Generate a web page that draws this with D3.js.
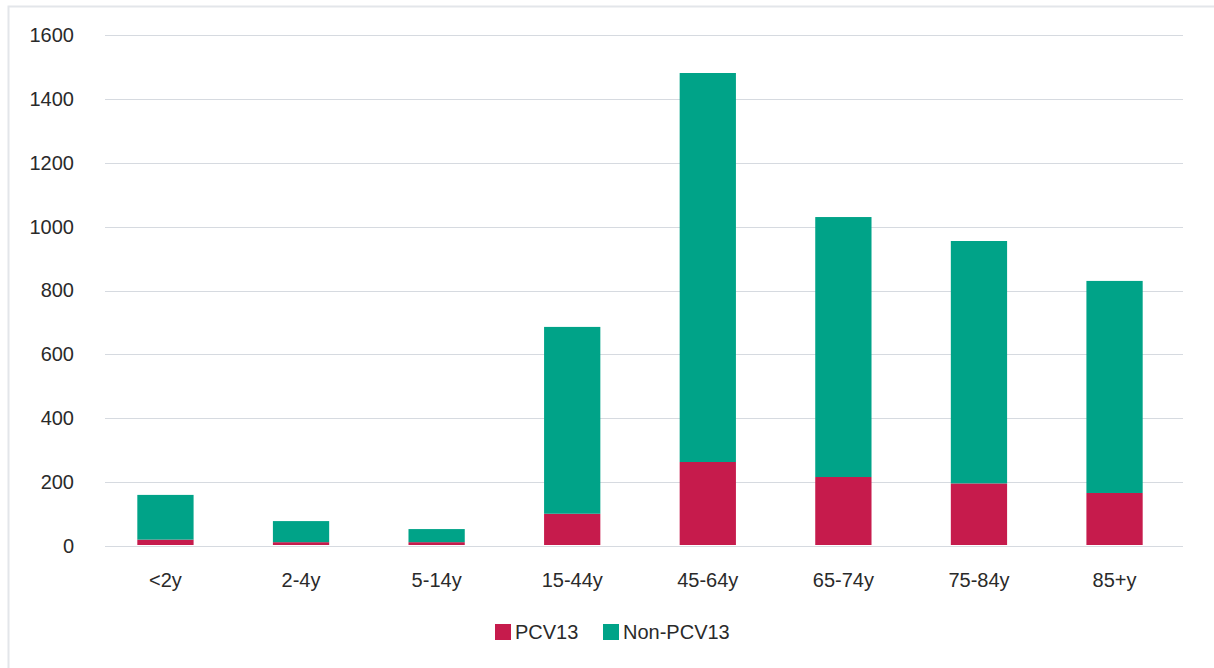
<!DOCTYPE html>
<html>
<head>
<meta charset="utf-8">
<script src="https://cdn.jsdelivr.net/npm/d3@7"></script>
<style>
  html, body { margin: 0; padding: 0; background: #fff; }
  svg { display: block; font-family: "Liberation Sans", Arial, sans-serif; }
</style>
</head>
<body>
<svg id="chart"></svg>
<script>
const categories = ["<2y", "2-4y", "5-14y", "15-44y", "45-64y", "65-74y", "75-84y", "85+y"]
const pcv13 = [20, 12, 12, 101, 263, 216, 196, 166]
const nonPcv13 = [140, 66, 41, 585, 1218, 814, 759, 664]
const seriesNames = ["PCV13", "Non-PCV13"]
const yTicks = [0, 200, 400, 600, 800, 1000, 1200, 1400, 1600]

const colors = { "PCV13": "#C61B4C", "Non-PCV13": "#00A388" }
const textColor = "#2a2a2a"

const width = 1214
const height = 668

const svg = d3.select("#chart")
    .attr("width", width)
    .attr("height", height)

// outer frame
svg.append("rect")
    .attr("x", 8.5)
    .attr("y", 6.5)
    .attr("width", width)
    .attr("height", height)
    .attr("fill", "none")
    .attr("stroke", "#E3E6EA")
    .attr("stroke-width", 2)

const table = categories.map((c, i) => ({ cat: c, "PCV13": pcv13[i], "Non-PCV13": nonPcv13[i] }))
const stacked = d3.stack().keys(seriesNames)(table)

const x = d3.scaleBand()
    .domain(categories)
    .range([98, 1182])
    .paddingInner(0.585)
    .paddingOuter(0.29)

const y = d3.scaleLinear()
    .domain([0, 1600])
    .range([546, 35])

// gridlines
svg.append("g")
    .selectAll("line")
    .data(yTicks)
    .join("line")
    .attr("x1", 105)
    .attr("x2", 1183)
    .attr("y1", d => Math.round(y(d)) + 0.5)
    .attr("y2", d => Math.round(y(d)) + 0.5)
    .attr("stroke", "#D6DAE0")
    .attr("stroke-width", 1.2)

// y labels
const yAxis = d3.axisLeft(y).tickValues(yTicks).tickFormat(d3.format("d")).tickSize(0).tickPadding(0)
const gy = svg.append("g")
    .attr("transform", "translate(74,0)")
    .call(yAxis)
gy.select(".domain").remove()
gy.selectAll("text")
    .attr("font-size", 20)
    .attr("font-family", "Liberation Sans, Arial, sans-serif")
    .attr("fill", textColor)

// bars
svg.append("g")
    .selectAll("g")
    .data(stacked)
    .join("g")
    .attr("fill", d => colors[d.key])
    .selectAll("rect")
    .data(d => d)
    .join("rect")
    .attr("x", d => x(d.data.cat))
    .attr("width", x.bandwidth())
    .attr("y", d => y(d[1]))
    .attr("height", d => y(d[0]) - y(d[1]) - (d[0] === 0 ? 1 : 0))

// x labels
const xAxis = d3.axisBottom(x).tickSize(0).tickPadding(0)
const gx = svg.append("g")
    .attr("transform", "translate(0,573)")
    .call(xAxis)
gx.select(".domain").remove()
gx.selectAll("text")
    .attr("font-size", 20)
    .attr("font-family", "Liberation Sans, Arial, sans-serif")
    .attr("fill", textColor)

// legend
const legendX = [495, 603]
const legend = svg.append("g")
const items = legend.selectAll("g")
    .data(seriesNames)
    .join("g")
    .attr("transform", (d, i) => `translate(${legendX[i]},624)`)
items.append("rect")
    .attr("width", 16)
    .attr("height", 16)
    .attr("fill", d => colors[d])
items.append("text")
    .attr("x", 20)
    .attr("y", 15)
    .attr("font-size", 20)
    .attr("fill", textColor)
    .text(d => d)
</script>
</body>
</html>
